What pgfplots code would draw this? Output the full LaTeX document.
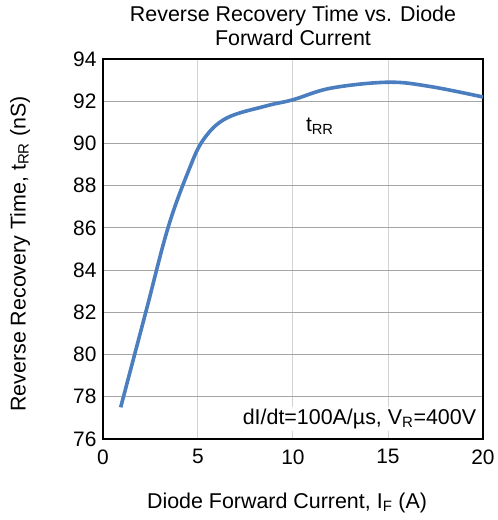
\documentclass[border=0pt]{standalone}
\usepackage{fontspec}
\setmainfont{Liberation Sans}
\usepackage{pgfplots}
\pgfplotsset{compat=1.18}
\definecolor{curve}{RGB}{74,126,191}
\definecolor{hgrid}{RGB}{165,165,165}
\definecolor{vgrid}{RGB}{210,210,210}
\begin{document}
\begin{tikzpicture}
\useasboundingbox (-103bp,-81bp) rectangle (395bp,439bp);
\begin{axis}[
  at={(0,0)}, anchor=south west,
  scale only axis, width=380bp, height=380bp,
  xmin=0, xmax=20, ymin=76, ymax=94,
  xtick={0,5,10,15,20}, ytick={76,78,...,94},
  major tick length=0pt,
  axis line style={black, line width=1.2bp},
  xmajorgrids, ymajorgrids,
  x grid style={vgrid, line width=1bp},
  y grid style={hgrid, line width=1bp},
  tick label style={font=\fontsize{21}{23}\selectfont},
  /pgf/number format/assume math mode=true,
  xticklabel style={yshift=-7bp},
  yticklabel style={xshift=-3bp},
  xlabel={Diode Forward Current, I\textsubscript{F} (A)},
  ylabel={Reverse Recovery Time, t\textsubscript{RR} (nS)},
  label style={font=\fontsize{21.5}{23}\selectfont},
  xlabel style={at={(axis description cs:0.5,0)}, anchor=center, yshift=-64bp, xshift=-6bp},
  ylabel style={at={(axis description cs:0,0.5)}, anchor=center, rotate=0, yshift=83bp, xshift=-5bp},
  title={Reverse Recovery Time vs. Diode\\Forward Current},
  title style={font=\fontsize{21.5}{24}\selectfont, align=center, at={(axis description cs:0.5,1)}, anchor=south, yshift=4bp},
]
\addplot[curve, line width=3.6bp, smooth, tension=0.6] coordinates {
(0.93,77.5) (2.25,82) (3.42,86) (4.5,88.7) (5.3,90.2) (6.5,91.2)
(8.6,91.78) (10.0,92.07) (12.0,92.62) (15.0,92.9) (17.2,92.7) (20.0,92.2)
};
\node[anchor=west, font=\fontsize{21}{23}\selectfont] at (axis cs:10.5,90.8) {t\textsubscript{RR}};
\node[anchor=east, fill=white, inner sep=2bp, font=\fontsize{21.5}{23}\selectfont] at (axis cs:19.75,76.95) {dI/dt=100A/µs, V\textsubscript{R}=400V};
\end{axis}
\end{tikzpicture}
\end{document}
